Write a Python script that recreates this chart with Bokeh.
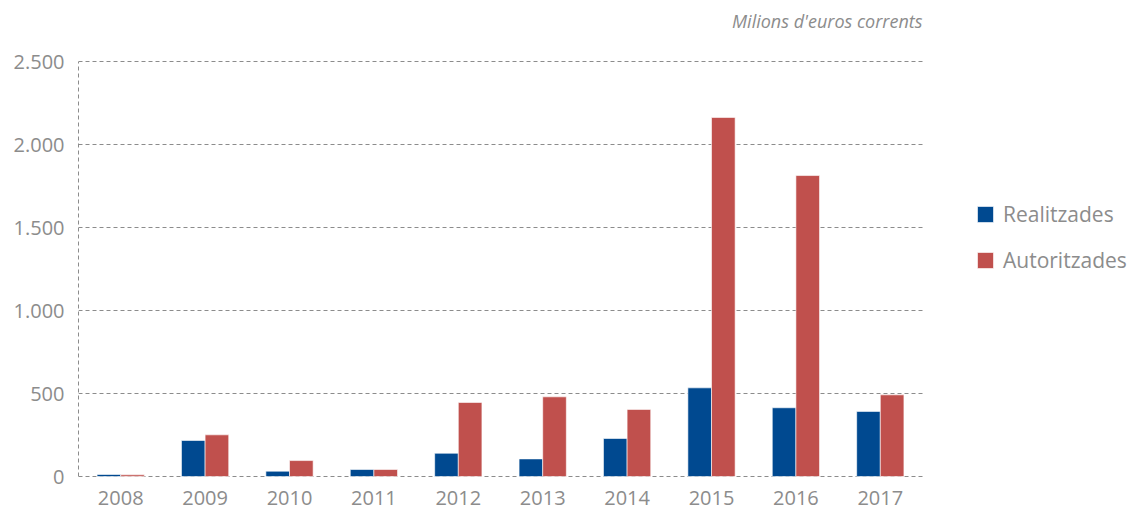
from bokeh.plotting import figure
from bokeh.models import ColumnDataSource, FixedTicker, Legend, LegendItem, Label, Range1d
from bokeh.embed import file_html
from bokeh.resources import INLINE

years = ["2008", "2009", "2010", "2011", "2012", "2013", "2014", "2015", "2016", "2017"]
realitzades = [12, 217, 32, 42, 140, 106, 229, 534, 414, 392]
autoritzades = [10, 251, 96, 42, 446, 480, 404, 2163, 1813, 492]
y_ticks = [0, 500, 1000, 1500, 2000, 2500]
y_tick_labels = ["0", "500", "1.000", "1.500", "2.000", "2.500"]

FONT = "Open Sans"
GRAY = "#8c8c8c"
BLUE = "#004990"
RED = "#c0504d"

n = len(years)
centers = [i + 0.5 for i in range(n)]
src = ColumnDataSource(dict(
    xr=[c - 0.14 for c in centers], xa=[c + 0.14 for c in centers],
    realitzades=realitzades, autoritzades=autoritzades))

# frame spans the full width/top so the legend and note are not clipped
p = figure(x_range=Range1d(0, n * 1049 / 844), y_range=Range1d(-6.02, 2867.5),
           width=1127, height=510, output_backend="svg", toolbar_location=None,
           min_border_left=78, min_border_right=0, min_border_top=0, min_border_bottom=33)
p.outline_line_color = None
p.background_fill_color = "white"
p.xgrid.grid_line_color = None
p.ygrid.grid_line_color = None

# dashed horizontal grid, limited to the data area
p.segment(x0=[0] * len(y_ticks), x1=[n] * len(y_ticks), y0=y_ticks, y1=y_ticks,
          line_color=GRAY, line_dash="4 3", line_width=1)

r1 = p.vbar(x="xr", top="realitzades", width=0.28, source=src,
            fill_color=BLUE, line_color="white", line_width=0.6)
r2 = p.vbar(x="xa", top="autoritzades", width=0.28, source=src,
            fill_color=RED, line_color="white", line_width=0.6)

p.yaxis.ticker = FixedTicker(ticks=y_ticks)
p.yaxis.bounds = (0, 2500)
p.yaxis.major_label_overrides = {t: l for t, l in zip(y_ticks, y_tick_labels)}
p.yaxis.axis_line_color = GRAY
p.yaxis.axis_line_dash = "4 3"
p.yaxis.major_tick_line_color = None
p.yaxis.minor_tick_line_color = None
p.yaxis.major_label_standoff = 8
p.yaxis.major_label_text_font = FONT
p.yaxis.major_label_text_font_size = "20px"
p.yaxis.major_label_text_color = GRAY

p.xaxis.ticker = FixedTicker(ticks=centers)
p.xaxis.major_label_overrides = {c: y for c, y in zip(centers, years)}
p.xaxis.axis_line_color = None
p.xaxis.major_tick_line_color = None
p.xaxis.minor_tick_line_color = None
p.xaxis.major_label_standoff = 7
p.xaxis.major_label_text_font = FONT
p.xaxis.major_label_text_font_size = "20px"
p.xaxis.major_label_text_color = GRAY

legend = Legend(items=[LegendItem(label="Realitzades", renderers=[r1]),
                       LegendItem(label="Autoritzades", renderers=[r2])],
                location=(897, 203), padding=0, margin=0, border_line_color=None,
                background_fill_alpha=0, glyph_width=20, glyph_height=20,
                label_height=20, spacing=18, label_standoff=8,
                label_text_font=FONT, label_text_font_size="21px", label_text_color=GRAY)
p.add_layout(legend, "center")

note = Label(x=844, y=457, x_units="screen", y_units="screen", text="Milions d'euros corrents",
             text_align="right", text_baseline="middle", text_font=FONT,
             text_font_style="italic", text_font_size="18px", text_color=GRAY)
p.add_layout(note)

open("out.html", "w").write(file_html(p, INLINE))
